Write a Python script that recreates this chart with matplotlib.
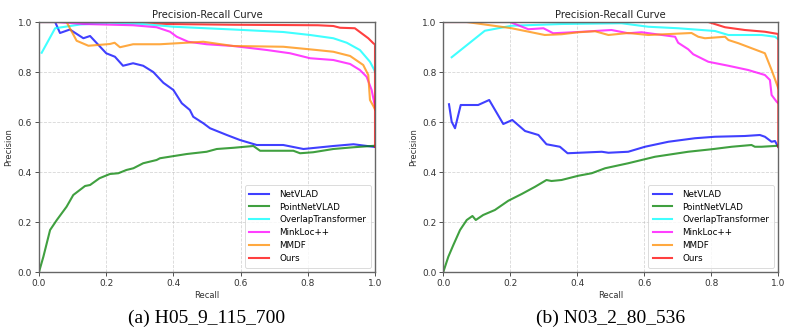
import matplotlib
matplotlib.use("Agg")
import matplotlib.pyplot as plt

methods = ["NetVLAD", "PointNetVLAD", "OverlapTransformer", "MinkLoc++", "MMDF", "Ours"]
colors = ["blue", "green", "cyan", "magenta", "darkorange", "red"]

# ---- (a) H05_9_115_700 ----
a_net_r = [0.0, 0.048, 0.0625, 0.092, 0.132, 0.152, 0.2, 0.226, 0.25, 0.28, 0.31, 0.34, 0.37, 0.40, 0.425,
           0.449, 0.459, 0.489, 0.509, 0.559, 0.598, 0.648, 0.727, 0.787, 0.876, 0.936, 1.0]
a_net_p = [1.0, 1.0, 0.956, 0.97, 0.935, 0.944, 0.875, 0.861, 0.825, 0.835, 0.825, 0.80, 0.757, 0.728, 0.675,
           0.648, 0.621, 0.595, 0.575, 0.548, 0.528, 0.508, 0.508, 0.492, 0.504, 0.511, 0.5]
a_pnv_r = [0.0, 0.013, 0.033, 0.053, 0.082, 0.102, 0.137, 0.152, 0.18, 0.211, 0.236, 0.26, 0.281, 0.31, 0.35,
           0.36, 0.44, 0.499, 0.529, 0.58, 0.638, 0.658, 0.757, 0.777, 0.816, 0.876, 0.936, 1.0]
a_pnv_p = [0.0, 0.061, 0.168, 0.208, 0.261, 0.308, 0.344, 0.348, 0.375, 0.392, 0.395, 0.408, 0.415, 0.435, 0.448,
           0.455, 0.472, 0.481, 0.492, 0.497, 0.504, 0.485, 0.485, 0.475, 0.479, 0.492, 0.499, 0.505]
a_ot_r = [0.008, 0.048, 0.122, 0.211, 0.31, 0.4, 0.578, 0.727, 0.807, 0.876, 0.916, 0.955, 0.985, 0.998, 1.0]
a_ot_p = [0.877, 0.975, 0.99, 0.997, 0.992, 0.981, 0.97, 0.96, 0.948, 0.935, 0.917, 0.888, 0.841, 0.808, 0.80]
a_mink_r = [0.0, 0.05, 0.132, 0.28, 0.35, 0.39, 0.41, 0.444, 0.499, 0.578, 0.678, 0.747, 0.807, 0.876, 0.926,
            0.955, 0.975, 0.99, 0.998, 1.0]
a_mink_p = [1.0, 1.0, 0.992, 0.987, 0.979, 0.961, 0.941, 0.921, 0.911, 0.904, 0.888, 0.875, 0.855, 0.848, 0.832,
            0.808, 0.781, 0.728, 0.675, 0.66]
a_mmdf_r = [0.0, 0.082, 0.112, 0.147, 0.211, 0.225, 0.241, 0.28, 0.36, 0.489, 0.578, 0.727, 0.826, 0.876, 0.926,
            0.965, 0.98, 0.985, 0.995, 1.0]
a_mmdf_p = [1.0, 1.0, 0.925, 0.905, 0.912, 0.917, 0.899, 0.911, 0.911, 0.921, 0.904, 0.901, 0.888, 0.881, 0.864,
            0.828, 0.788, 0.688, 0.664, 0.65]
a_ours_r = [0.0, 0.31, 0.38, 0.58, 0.83, 0.876, 0.896, 0.94, 0.955, 0.98, 0.995, 1.0, 1.0]
a_ours_p = [1.0, 1.0, 0.992, 0.989, 0.987, 0.984, 0.977, 0.975, 0.96, 0.935, 0.915, 0.91, 0.5]

# ---- (b) N03_2_80_536 ----
b_net_r = [0.017, 0.025, 0.035, 0.052, 0.104, 0.137, 0.179, 0.206, 0.244, 0.284, 0.308, 0.348, 0.371, 0.473,
           0.493, 0.552, 0.602, 0.672, 0.751, 0.811, 0.9, 0.945, 0.96, 0.98, 0.99, 1.0]
b_net_p = [0.671, 0.601, 0.575, 0.668, 0.668, 0.688, 0.592, 0.608, 0.564, 0.548, 0.511, 0.501, 0.475, 0.481,
           0.477, 0.481, 0.501, 0.521, 0.535, 0.541, 0.544, 0.548, 0.541, 0.521, 0.524, 0.5]
b_pnv_r = [0.0, 0.015, 0.03, 0.05, 0.07, 0.087, 0.097, 0.119, 0.154, 0.194, 0.234, 0.274, 0.308, 0.323, 0.353,
           0.403, 0.443, 0.483, 0.552, 0.632, 0.731, 0.801, 0.861, 0.92, 0.93, 0.95, 1.0]
b_pnv_p = [0.0, 0.061, 0.108, 0.168, 0.208, 0.224, 0.208, 0.228, 0.248, 0.285, 0.312, 0.341, 0.368, 0.364, 0.368,
           0.385, 0.395, 0.415, 0.435, 0.461, 0.481, 0.491, 0.501, 0.508, 0.501, 0.501, 0.505]
b_ot_r = [0.025, 0.124, 0.204, 0.353, 0.532, 0.612, 0.701, 0.811, 0.851, 0.95, 0.99, 1.0]
b_ot_p = [0.859, 0.965, 0.985, 0.992, 0.995, 0.981, 0.975, 0.964, 0.948, 0.948, 0.941, 0.931]
b_mink_r = [0.0, 0.199, 0.254, 0.299, 0.328, 0.403, 0.502, 0.552, 0.592, 0.692, 0.701, 0.731, 0.746, 0.791,
            0.851, 0.91, 0.96, 0.975, 0.98, 0.995, 1.0]
b_mink_p = [1.0, 1.0, 0.971, 0.975, 0.955, 0.96, 0.968, 0.955, 0.959, 0.941, 0.917, 0.891, 0.871, 0.841,
            0.825, 0.808, 0.788, 0.768, 0.708, 0.681, 0.675]
b_mmdf_r = [0.0, 0.07, 0.204, 0.303, 0.353, 0.403, 0.453, 0.493, 0.552, 0.612, 0.741, 0.761, 0.781, 0.841,
            0.851, 0.881, 0.96, 0.98, 1.0]
b_mmdf_p = [1.0, 1.0, 0.975, 0.948, 0.951, 0.959, 0.963, 0.948, 0.956, 0.948, 0.956, 0.941, 0.935, 0.941,
            0.928, 0.915, 0.875, 0.808, 0.735]
b_ours_r = [0.0, 0.791, 0.841, 0.9, 0.96, 1.0, 1.0]
b_ours_p = [1.0, 1.0, 0.979, 0.968, 0.961, 0.952, 0.5]

panels = [
    ([(a_net_r, a_net_p), (a_pnv_r, a_pnv_p), (a_ot_r, a_ot_p), (a_mink_r, a_mink_p),
      (a_mmdf_r, a_mmdf_p), (a_ours_r, a_ours_p)], "(a) H05_9_115_700"),
    ([(b_net_r, b_net_p), (b_pnv_r, b_pnv_p), (b_ot_r, b_ot_p), (b_mink_r, b_mink_p),
      (b_mmdf_r, b_mmdf_p), (b_ours_r, b_ours_p)], "(b) N03_2_80_536"),
]

fig = plt.figure(figsize=(7.89, 3.34), dpi=100)
boxes = [[39 / 789, 62 / 334, 336 / 789, 250 / 334],
         [443.3 / 789, 62 / 334, 335 / 789, 250 / 334]]

for box, (curves, caption) in zip(boxes, panels):
    ax = fig.add_axes(box)
    for (r, p), name, c in zip(curves, methods, colors):
        ax.plot(r, p, color=c, alpha=0.75, linewidth=1.5, label=name)
    ax.set_xlim(0, 1)
    ax.set_ylim(0, 1)
    ax.set_xticks([0, 0.2, 0.4, 0.6, 0.8, 1.0])
    ax.set_yticks([0, 0.2, 0.4, 0.6, 0.8, 1.0])
    ax.tick_params(labelsize=6.5, length=3, width=0.6, pad=2, colors="#333333")
    for s in ax.spines.values():
        s.set_color("#666666")
        s.set_linewidth(1.0)
    ax.grid(linestyle="--", linewidth=0.6, alpha=0.5)
    ax.set_title("Precision-Recall Curve", fontsize=7.2, pad=3, color="#222222")
    ax.set_xlabel("Recall", fontsize=6, labelpad=2, color="#333333")
    ax.set_ylabel("Precision", fontsize=6, labelpad=3, color="#333333")
    leg = ax.legend(loc="lower right", fontsize=6.3, handlelength=2.2, labelspacing=0.45,
                    borderpad=0.5, handletextpad=1.2, frameon=True)
    leg.get_frame().set_linewidth(0.6)
    cx = box[0] + box[2] / 2
    fig.text(cx, 1 - 318 / 334, caption, ha="center", va="center",
             fontsize=14, family="Liberation Serif")

fig.savefig("out.png", dpi=100)
